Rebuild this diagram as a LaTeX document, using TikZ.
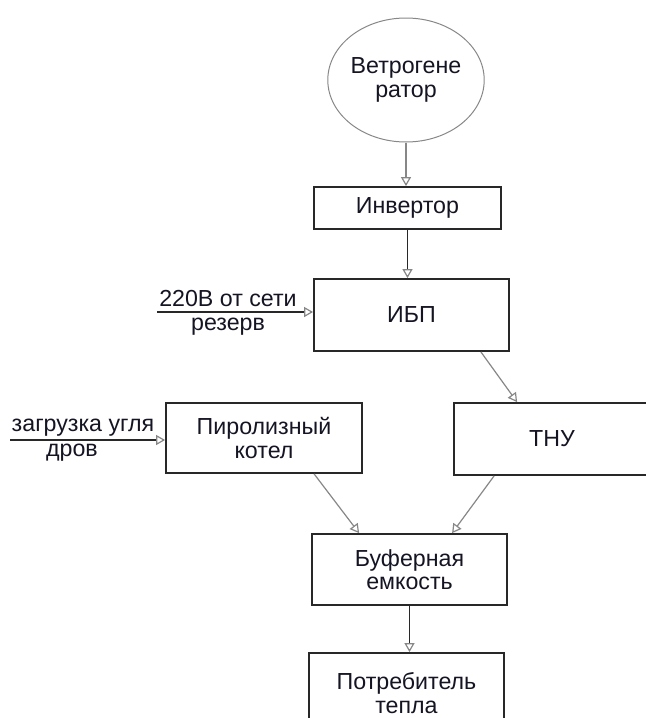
\documentclass[tikz,border=0pt]{standalone}
\usepackage{fontspec}
\setmainfont{Liberation Sans}
\usetikzlibrary{arrows.meta,shapes.geometric,calc}
\definecolor{LineGray}{RGB}{135,135,135}
\definecolor{BoxBlack}{RGB}{40,40,40}
\definecolor{TextColor}{RGB}{20,20,35}

\begin{document}
\begin{tikzpicture}[x=0.5pt,y=-0.5pt,
    font=\fontsize{11.6}{11.6}\selectfont,
    box/.style={draw=BoxBlack, line width=0.9pt, align=center, text=TextColor, inner sep=0pt},
    flow/.style={-{Triangle[open,length=4.5pt,width=5pt,color=LineGray]}, line width=0.6pt},
    lbl/.style={text=TextColor, inner sep=0pt, anchor=base}]
        \useasboundingbox (0,0) rectangle (646,718);
        \clip (0,0) rectangle (646,718);
        \node[ellipse, draw=LineGray, line width=0.5pt, align=center, text=TextColor, minimum width=73pt, minimum height=62pt, inner sep=0pt] (gen) at (406,80) {Ветрогене\\ратор};
        \node[box, minimum width=93.5pt, minimum height=21pt] (inv) at (407.5,208) {Инвертор};
        \node[box, minimum width=97.5pt, minimum height=36pt] (ibp) at (411.5,315) {ИБП};
        \node[box, minimum width=98pt, minimum height=35pt] (piro) at (264,438) {Пиролизный\\котел};
        \node[box, minimum width=98pt, minimum height=36pt] (tnu) at (552,439) {ТНУ};
        \node[box, minimum width=97.5pt, minimum height=35.5pt] (buf) at (409.5,569.5) {Буферная\\емкость};
        \node[box, minimum width=97.5pt, minimum height=40pt] (cons) at (406.5,693) {Потребитель\\тепла};
        \coordinate (net) at (157,312);
        \coordinate (fuel) at (10,440);
        \node[lbl] (netup) at (228,306) {220В от сети};
        \node[lbl] (netdn) at (228,330) {резерв};
        \node[lbl] (fuelup) at (83,431) {загрузка угля};
        \node[lbl] (fueldn) at (72,456) {дров};
        \draw[flow, LineGray] (gen.south) -- (gen.south |- inv.north);
        \draw[flow, BoxBlack] (inv.south) -- (inv.south |- ibp.north);
        \draw[flow, BoxBlack] (net) -- (net -| ibp.west);
        \draw[flow, BoxBlack] (fuel) -- (fuel -| piro.west);
        \draw[flow, LineGray] ([xshift=-14.5pt]ibp.south east) -- ([xshift=32pt]tnu.north west);
        \draw[flow, LineGray] ([xshift=74.5pt]piro.south west) -- ([xshift=24pt]buf.north west);
        \draw[flow, LineGray] ([xshift=20.5pt]tnu.south west) -- ([xshift=70.5pt]buf.north west);
        \draw[flow, BoxBlack] (buf.south) -- (buf.south |- cons.north);
      \end{tikzpicture}
\end{document}
